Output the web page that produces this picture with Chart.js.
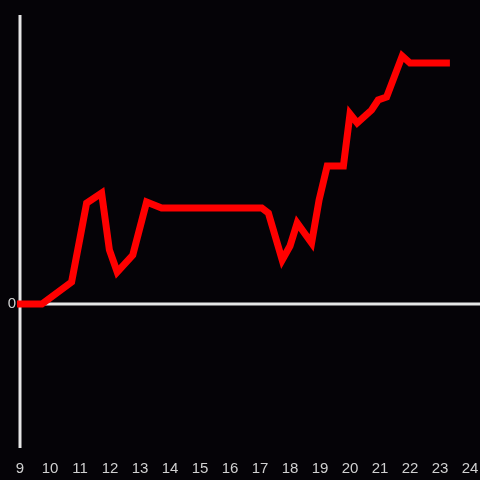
<!DOCTYPE html>
<html>
<head>
<meta charset="utf-8">
<script src="https://cdn.jsdelivr.net/npm/chart.js@4/dist/chart.umd.min.js"></script>
<style>
html,body{margin:0;padding:0;background:#050307;}
#wrap{width:480px;height:480px;}
</style>
</head>
<body>
<div id="wrap"><canvas id="c" width="480" height="480"></canvas></div>
<script>
const hours = [8.9, 9.73, 10.72, 11.0, 11.22, 11.72, 11.98, 12.24, 12.76, 13.22, 13.72, 17.06, 17.28, 17.74, 18.0, 18.24, 18.72, 18.97, 19.24, 19.78, 20.0, 20.24, 20.72, 20.94, 21.22, 21.74, 22.0, 23.33];
const values = [0, 0, 22, 66, 101, 111, 54, 32, 49, 102, 96, 96, 91, 44, 58, 81, 61, 104, 138, 138, 190, 181, 194, 204, 207, 248, 241, 241];
const xTicks = [9,10,11,12,13,14,15,16,17,18,19,20,21,22,23,24];
const yTicks = [0];
const yMin = -144, yMax = 289;

const points = hours.map((h, i) => ({x: h, y: values[i]}));

const bgPlugin = {
  id: 'bg',
  beforeDraw(chart) {
    const ctx = chart.ctx;
    ctx.save();
    ctx.fillStyle = '#050307';
    ctx.fillRect(0, 0, chart.width, chart.height);
    ctx.restore();
  },
  beforeDatasetsDraw(chart) {
    const ctx = chart.ctx;
    const a = chart.chartArea;
    const y0 = chart.scales.y.getPixelForValue(0);
    ctx.save();
    ctx.strokeStyle = '#e6e6e6';
    ctx.lineWidth = 3;
    ctx.beginPath();
    ctx.moveTo(a.left, y0);
    ctx.lineTo(chart.width, y0);
    ctx.stroke();
    ctx.beginPath();
    ctx.moveTo(a.left, a.top);
    ctx.lineTo(a.left, a.bottom);
    ctx.stroke();
    ctx.restore();
  }
};

new Chart(document.getElementById('c'), {
  type: 'line',
  data: {
    datasets: [{
      data: points,
      borderColor: '#ff0000',
      borderWidth: 7,
      pointRadius: 0,
      tension: 0,
      fill: false,
      clip: false
    }]
  },
  options: {
    responsive: false,
    animation: false,
    layout: {padding: {top: 15, right: 10, left: 0, bottom: 0}},
    plugins: {legend: {display: false}, tooltip: {enabled: false}},
    scales: {
      x: {
        type: 'linear',
        min: 9, max: 24,
        grid: {display: false, drawTicks: true, tickLength: 12},
        border: {display: false},
        afterBuildTicks(scale) { scale.ticks = xTicks.map(v => ({value: v})); },
        afterFit(scale) { scale.height = 32; },
        ticks: {
          color: '#d0d0d0',
          font: {family: 'Liberation Sans', size: 15},
          padding: 0,
          maxRotation: 0,
          autoSkip: false
        }
      },
      y: {
        type: 'linear',
        min: yMin, max: yMax,
        grid: {display: false, drawTicks: false},
        border: {display: false},
        afterBuildTicks(scale) { scale.ticks = yTicks.map(v => ({value: v})); },
        afterFit(scale) { scale.width = 20; },
        ticks: {
          color: '#d0d0d0',
          font: {family: 'Liberation Sans', size: 15},
          padding: 4
        }
      }
    }
  },
  plugins: [bgPlugin]
});
</script>
</body>
</html>
